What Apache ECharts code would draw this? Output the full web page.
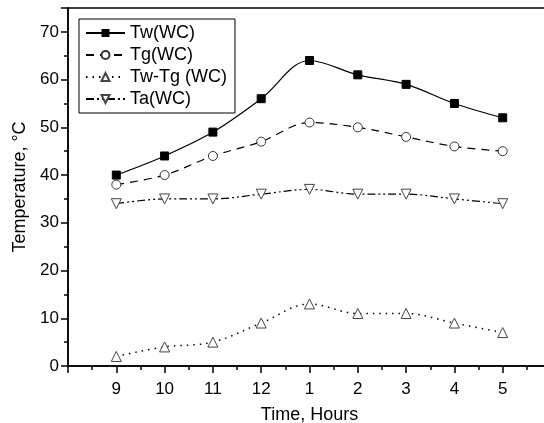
<!DOCTYPE html>
<html>
<head>
<meta charset="utf-8">
<script src="https://cdn.jsdelivr.net/npm/echarts@6/dist/echarts.min.js"></script>
<style>
  html, body { margin: 0; padding: 0; background: #fff; }
  #chart { width: 544px; height: 423px; }
</style>
</head>
<body>
<div id="chart"></div>
<script>
// hours of the day, drawn at x = 9..17
const hours = ['9', '10', '11', '12', '1', '2', '3', '4', '5'];
const tw = [40, 44, 49, 56, 64, 61, 59, 55, 52];
const tg = [38, 40, 44, 47, 51, 50, 48, 46, 45];
const twTg = [2, 4, 5, 9, 13, 11, 11, 9, 7];
const ta = [34, 35, 35, 36, 37, 36, 36, 35, 34];

function pts(arr) {
  return arr.map((v, i) => [i + 9, v]);
}

const font = 'Arial, "Liberation Sans", sans-serif';
const chart = echarts.init(document.getElementById('chart'));

chart.setOption({
  animation: false,
  textStyle: { fontFamily: font },
  grid: {
    left: 68, top: 8, right: -7, bottom: 57,
    containLabel: false, outerBoundsMode: 'none',
    show: true, borderColor: '#000', borderWidth: 1.5
  },
  legend: {
    orient: 'vertical', left: 79, top: 19,
    padding: [5, 8, 5, 6],
    itemWidth: 39, itemHeight: 10, itemGap: 4,
    borderColor: '#000', borderWidth: 1,
    textStyle: { fontSize: 18, color: '#000', fontFamily: font },
    data: ['Tw(WC)', 'Tg(WC)', 'Tw-Tg (WC)', 'Ta(WC)']
  },
  xAxis: {
    type: 'value', min: 8, max: 18, interval: 1,
    name: 'Time, Hours', nameLocation: 'middle', nameGap: 40,
    nameTextStyle: { fontSize: 18, color: '#000' },
    axisLine: { lineStyle: { color: '#000', width: 1.5 } },
    axisTick: { inside: false, length: 7, lineStyle: { color: '#000', width: 1.5 } },
    minorTick: { show: true, splitNumber: 2, length: 4, lineStyle: { color: '#000', width: 1.5 } },
    splitLine: { show: false },
    axisLabel: {
      fontSize: 17, color: '#000', margin: 15,
      formatter: v => (v >= 9 && v <= 17 ? hours[v - 9] : '')
    }
  },
  yAxis: {
    type: 'value', min: 0, max: 75, interval: 10,
    name: 'Temperature, °C', nameLocation: 'middle', nameGap: 38,
    nameTextStyle: { fontSize: 18, color: '#000' },
    axisLine: { lineStyle: { color: '#000', width: 1.5 } },
    axisTick: { inside: false, length: 7, lineStyle: { color: '#000', width: 1.5 } },
    minorTick: { show: true, splitNumber: 2, length: 4, lineStyle: { color: '#000', width: 1.5 } },
    splitLine: { show: false },
    axisLabel: {
      fontSize: 17, color: '#000', margin: 9,
      formatter: v => (v <= 70 ? String(v) : '')
    }
  },
  series: [
    {
      name: 'Tw(WC)', type: 'line', smooth: 0.35, data: pts(tw),
      symbol: 'rect', symbolSize: 8,
      itemStyle: { color: '#000', borderColor: '#000' },
      lineStyle: { color: '#000', width: 1.2, type: 'solid' }
    },
    {
      name: 'Tg(WC)', type: 'line', smooth: 0.35, data: pts(tg),
      symbol: 'circle', symbolSize: 9,
      itemStyle: { color: '#fff', borderColor: '#333', borderWidth: 1 },
      lineStyle: { color: '#000', width: 1.2, type: [8, 6] }
    },
    {
      name: 'Tw-Tg (WC)', type: 'line', smooth: 0.35, data: pts(twTg),
      symbol: 'triangle', symbolSize: 10,
      itemStyle: { color: '#fff', borderColor: '#444', borderWidth: 1 },
      lineStyle: { color: '#000', width: 1.5, type: [1.5, 5] }
    },
    {
      name: 'Ta(WC)', type: 'line', smooth: 0.35, data: pts(ta),
      symbol: 'triangle', symbolRotate: 180, symbolSize: 10,
      itemStyle: { color: '#fff', borderColor: '#444', borderWidth: 1 },
      lineStyle: { color: '#000', width: 1.2, type: [8, 3, 2, 3, 2, 3] }
    }
  ]
});
</script>
</body>
</html>
